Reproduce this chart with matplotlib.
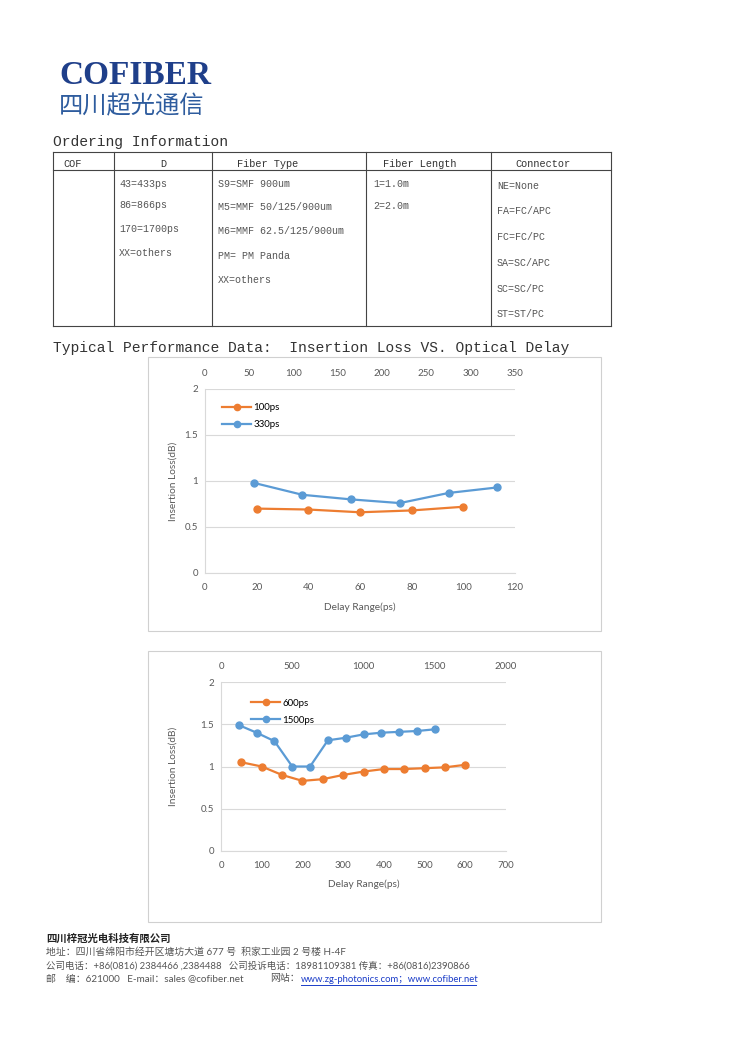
import numpy as np
import matplotlib
matplotlib.use('Agg')
import matplotlib.pyplot as plt
from matplotlib.patches import Rectangle
from matplotlib.lines import Line2D

# chart 1 data
x_100 = [20, 40, 60, 80, 100]
il_100 = [0.70, 0.69, 0.66, 0.68, 0.72]
x_330 = [55, 110, 165, 220, 275, 330]
il_330 = [0.98, 0.85, 0.80, 0.76, 0.87, 0.93]

# chart 2 data
x_600 = [50, 100, 150, 200, 250, 300, 350, 400, 450, 500, 550, 600]
il_600 = [1.05, 1.00, 0.90, 0.83, 0.85, 0.90, 0.94, 0.97, 0.97, 0.98, 0.99, 1.02]
x_1500 = [125, 250, 375, 500, 625, 750, 875, 1000, 1125, 1250, 1375, 1500]
il_1500 = [1.49, 1.40, 1.30, 1.00, 1.00, 1.31, 1.34, 1.38, 1.40, 1.41, 1.42, 1.44]

y_ticks = [0, 0.5, 1, 1.5, 2]

# ordering table
col_lines = [53, 114, 212, 366, 491, 611]
headers = ['COF', 'D', 'Fiber Type', 'Fiber Length', 'Connector']
d_items = ['43=433ps', '86=866ps', '170=1700ps', 'XX=others']
fiber_items = ['S9=SMF 900um', 'M5=MMF 50/125/900um', 'M6=MMF 62.5/125/900um',
               'PM= PM Panda', 'XX=others']
length_items = ['1=1.0m', '2=2.0m']
conn_items = ['NE=None', 'FA=FC/APC', 'FC=FC/PC', 'SA=SC/APC', 'SC=SC/PC', 'ST=ST/PC']

ORANGE = '#ED7D31'
BLUE = '#5B9BD5'
GRID = '#D9D9D9'
TXT = '#595959'
MONO = 'Liberation Mono'
CJK = ['Noto Sans CJK SC', 'DejaVu Sans']
FOOT = ['Lato', 'Noto Sans CJK SC']

W, H = 750, 1061
fig = plt.figure(figsize=(7.5, 10.61), dpi=100)
fig.patch.set_facecolor('white')

# page axes in pixel coordinates
pg = fig.add_axes([0, 0, 1, 1])
pg.set_xlim(0, W)
pg.set_ylim(H, 0)
pg.axis('off')

# logo
pg.text(59, 75, 'COFIBER', fontsize=24, fontweight='bold', family='Liberation Serif',
        color='#1f3f8a', va='center', ha='left')
pg.text(59, 106, '四川超光通信', fontsize=17.5, family=CJK, color='#2e5c9e', va='center',
        fontweight='light')

# section titles
pg.text(53, 142, 'Ordering Information', fontsize=10.5, family=MONO, color='#333333', va='center')
pg.text(53, 348, 'Typical Performance Data:  Insertion Loss VS. Optical Delay',
        fontsize=10.5, family=MONO, color='#333333', va='center')

# table lines
lc = '#444444'
for y in [152, 170, 326]:
    pg.add_line(Line2D([53, 611], [y, y], color=lc, lw=0.8))
for x in col_lines:
    pg.add_line(Line2D([x, x], [152, 326], color=lc, lw=0.8))

hx = [(63, 'left'), (163, 'center'), (268, 'center'), (420, 'center'), (543, 'center')]
for (x, ha), h in zip(hx, headers):
    pg.text(x, 164, h, fontsize=7.4, family=MONO, color='#333333', ha=ha, va='center')

tcol = '#555555'
fs = 7.2
for y, s in zip([184, 205, 229, 253], d_items):
    pg.text(119, y, s, fontsize=fs, family=MONO, color=tcol, va='center')
for y, s in zip([184, 207, 231, 256, 280], fiber_items):
    pg.text(218, y, s, fontsize=fs, family=MONO, color=tcol, va='center')
for y, s in zip([184, 206], length_items):
    pg.text(373, y, s, fontsize=fs, family=MONO, color=tcol, va='center')
for y, s in zip([186, 211, 237, 263, 289, 314], conn_items):
    pg.text(497, y, s, fontsize=fs, family=MONO, color=tcol, va='center')

# chart frames
pg.add_patch(Rectangle((148, 357), 453, 274, fill=False, ec='#D0D0D0', lw=0.8))
pg.add_patch(Rectangle((148, 651), 453, 271, fill=False, ec='#D0D0D0', lw=0.8))


def make_chart(px, xlab_top, xb, yb, lb, xt, yt, lt, bmax, bstep, tmax, tstep, leg_anchor):
    left, right, top, bottom = px
    ax = fig.add_axes([left / W, 1 - bottom / H, (right - left) / W, (bottom - top) / H])
    ax.set_facecolor('none')
    ax.plot(xb, yb, color=ORANGE, lw=1.6, marker='o', ms=5, label=lb, zorder=3)
    ax.set_xlim(0, bmax)
    ax.set_xticks(np.arange(0, bmax + 1, bstep))
    ax.set_ylim(0, 2)
    ax.set_yticks(y_ticks)
    ax.set_yticklabels(['0', '0.5', '1', '1.5', '2'])
    ax.yaxis.grid(True, color=GRID, lw=0.8)
    ax.set_axisbelow(True)
    for s in ['top', 'right']:
        ax.spines[s].set_visible(False)
    for s in ['left', 'bottom']:
        ax.spines[s].set_color(GRID)
        ax.spines[s].set_linewidth(0.8)
    ax.tick_params(length=0, labelsize=7, labelcolor=TXT, pad=5)
    ax.tick_params(axis='x', pad=7)
    ax.set_xlabel('Delay Range(ps)', fontsize=7.3, color=TXT, family='Lato')
    ax.set_ylabel('Insertion Loss(dB)', fontsize=7.3, color=TXT, family='Lato')
    ax.xaxis.set_label_coords(0.5, (bottom - xlab_top) / (bottom - top))
    ax.yaxis.set_label_coords((178 - left) / (right - left), 0.5)
    for lab in ax.get_xticklabels() + ax.get_yticklabels():
        lab.set_family('Lato')

    ax2 = ax.twiny()
    ax2.plot(xt, yt, color=BLUE, lw=1.6, marker='o', ms=5, label=lt, zorder=3)
    ax2.set_xlim(0, tmax)
    ax2.set_xticks(np.arange(0, tmax + 1, tstep))
    for s in ax2.spines.values():
        s.set_visible(False)
    ax2.tick_params(length=0, labelsize=7, labelcolor=TXT, pad=8)
    for lab in ax2.get_xticklabels():
        lab.set_family('Lato')

    h1, l1 = ax.get_legend_handles_labels()
    h2, l2 = ax2.get_legend_handles_labels()
    ax2.legend(h1 + h2, l1 + l2, loc='upper left', bbox_to_anchor=leg_anchor,
               frameon=False, prop={'family': 'Lato', 'size': 7},
               handlelength=3.0, handletextpad=0.2, labelspacing=0.8, borderpad=0,
               borderaxespad=0, markerscale=0.9)
    return ax


make_chart((205, 515, 389, 573), 602, x_100, il_100, '100ps',
           x_330, il_330, '330ps', 120, 20, 350, 50, (0.055, 0.922))
make_chart((221, 506, 682, 851), 879, x_600, il_600, '600ps',
           x_1500, il_1500, '1500ps', 700, 100, 2000, 500, (0.105, 0.90))

# footer
pg.text(46, 939, '四川梓冠光电科技有限公司', fontsize=7.5, fontweight='bold', family=CJK,
        color='#222222', va='center')
pg.text(46, 952, '地址：四川省绵阳市经开区塘坊大道 677 号  积家工业园 2 号楼 H-4F',
        fontsize=7.1, family=FOOT, color='#555555', va='center')
pg.text(46, 966, '公司电话：+86(0816) 2384466 ,2384488   公司投诉电话：18981109381 传真：+86(0816)2390866',
        fontsize=6.8, family=FOOT, color='#555555', va='center')
pg.text(46, 979, '邮    编：621000   E-mail：sales @cofiber.net',
        fontsize=7.1, family=FOOT, color='#555555', va='center')
pg.text(270, 979, '网站：', fontsize=7.1, family=FOOT, color='#555555', va='center')
pg.text(301, 979, 'www.zg-photonics.com；www.cofiber.net', fontsize=6.8, family=FOOT,
        color='#1a3cc8', va='center')
pg.add_line(Line2D([301, 476], [985, 985], color='#1a3cc8', lw=0.7))

fig.savefig('out.png', dpi=100, facecolor='white')
